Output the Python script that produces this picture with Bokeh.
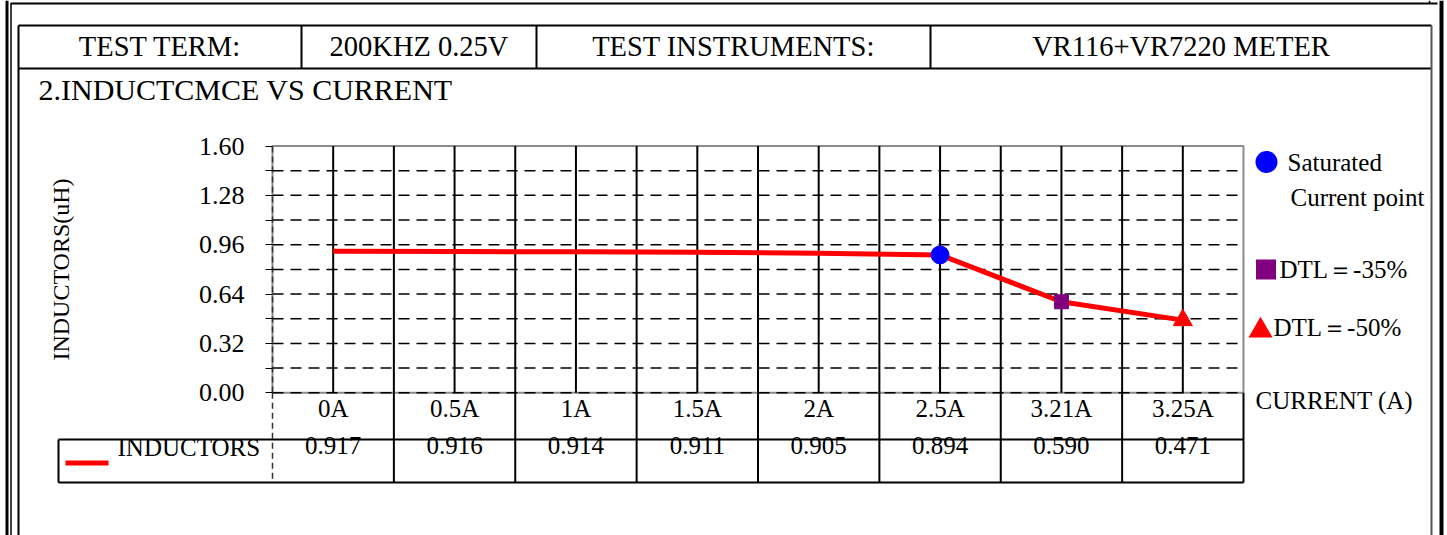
from bokeh.plotting import figure
from bokeh.models import Range1d, FixedTicker, LinearAxis, NumeralTickFormatter
from bokeh.core.properties import value
from bokeh.embed import file_html
from bokeh.resources import INLINE

# ---------------- data ----------------
categories = ["0A", "0.5A", "1A", "1.5A", "2A", "2.5A", "3.21A", "3.25A"]
inductance = [0.917, 0.916, 0.914, 0.911, 0.905, 0.894, 0.590, 0.471]
value_labels = ["0.917", "0.916", "0.914", "0.911", "0.905", "0.894", "0.590", "0.471"]
y_major_ticks = [0.00, 0.32, 0.64, 0.96, 1.28, 1.60]
y_minor_ticks = [0.16, 0.48, 0.80, 1.12, 1.44]
saturated_point = "2.5A"
dtl35_point = "3.21A"
dtl50_point = "3.25A"
header_cells = ["TEST TERM:", "200KHZ 0.25V", "TEST INSTRUMENTS:", "VR116+VR7220 METER"]
chart_title = "2.INDUCTCMCE  VS  CURRENT"
y_title = "INDUCTORS(uH)"
series_name = "INDUCTORS"
legend_texts = ["Saturated", "Current point", "DTL\uff1d-35%", "DTL\uff1d-50%"]
x_title = "CURRENT (A)"

# ---------------- layout constants (page pixels) ----------------
FONT = "Liberation Serif"
W, H = 1447, 535
PLOT_L, PLOT_R, PLOT_T, PLOT_B = 272, 1243, 145.5, 392.3
TABLE_ROW, TABLE_BOT, TABLE_L = 439, 482, 58

n = len(categories)
xs = [i + 0.5 for i in range(n)]
pos = dict(zip(categories, xs))
val = dict(zip(categories, inductance))
y_lo, y_hi = y_major_ticks[0], y_major_ticks[-1]

col_w = (PLOT_R - PLOT_L) / n
py_per_unit = (PLOT_B - PLOT_T) / (y_hi - y_lo)

# page coordinates (y downwards) for the decorations; chart ranges for the data
p = figure(width=W, height=H, output_backend="svg", toolbar_location=None,
           x_range=Range1d(0, W), y_range=Range1d(H, 0),
           x_axis_type=None, y_axis_type=None,
           min_border=0, min_border_left=0, min_border_right=0,
           min_border_top=0, min_border_bottom=0)
p.extra_x_ranges = {"cx": Range1d(-PLOT_L / col_w, (W - PLOT_L) / col_w)}
p.extra_y_ranges = {"cy": Range1d(y_lo - (H - PLOT_B) / py_per_unit, y_lo + PLOT_B / py_per_unit)}
p.outline_line_color = None
p.background_fill_color = "white"
p.border_fill_color = "white"
p.grid.visible = False

C = dict(x_range_name="cx", y_range_name="cy")

# ---------------- plot area: frame and grid ----------------
p.quad(left=[0], right=[n], bottom=[y_lo], top=[y_hi], fill_color=None,
       line_color="#8c8c8c", line_width=2, **C)
h_ticks = sorted(y_major_ticks[:-1] + y_minor_ticks)
p.segment(x0=[0] * len(h_ticks), x1=[n] * len(h_ticks), y0=h_ticks, y1=h_ticks,
          line_color="black", line_width=1.5, line_dash="11 7", **C)
v_ticks = [k / 2 for k in range(1, 2 * n)]
p.segment(x0=v_ticks, x1=v_ticks, y0=[y_lo] * len(v_ticks), y1=[y_hi] * len(v_ticks),
          line_color="black", line_width=2, **C)

# ---------------- axes fixed at the plot area's edges ----------------
xa = LinearAxis(ticker=FixedTicker(ticks=xs), fixed_location=y_lo, bounds=(0, n), **C)
xa.major_label_overrides = {x: c for x, c in zip(xs, categories)}
xa2 = LinearAxis(ticker=FixedTicker(ticks=xs), fixed_location=y_lo, bounds=(0, n), **C)
xa2.major_label_overrides = {x: v for x, v in zip(xs, value_labels)}
for ax, so in ((xa, 2), (xa2, 44)):
    ax.axis_line_color = None
    ax.major_tick_line_color = None
    ax.minor_tick_line_color = None
    ax.major_tick_out = 0
    ax.major_tick_in = 0
    ax.minor_tick_out = 0
    ax.minor_tick_in = 0
    ax.major_label_standoff = so
    ax.major_label_text_font = FONT
    ax.major_label_text_font_size = "25px"
    ax.major_label_text_color = "black"
    p.add_layout(ax, "below")

ya = LinearAxis(ticker=FixedTicker(ticks=y_major_ticks, minor_ticks=y_minor_ticks),
                fixed_location=0, bounds=(y_lo, y_hi), **C)
ya.formatter = NumeralTickFormatter(format="0.00")
ya.axis_line_color = "#333333"
ya.axis_line_dash = "6 4"
ya.axis_line_width = 1.5
ya.major_tick_out = 7
ya.major_tick_in = 0
ya.minor_tick_out = 7
ya.minor_tick_in = 0
ya.major_tick_line_color = "black"
ya.minor_tick_line_color = "black"
ya.major_label_standoff = 21
ya.major_label_text_font = FONT
ya.major_label_text_font_size = "26px"
ya.major_label_text_color = "black"
ya.axis_label = y_title
ya.axis_label_text_font = FONT
ya.axis_label_text_font_size = "24px"
ya.axis_label_text_font_style = "normal"
ya.axis_label_text_color = "black"
ya.axis_label_standoff = 122
p.add_layout(ya, "left")

# ---------------- data series ----------------
p.line(xs, inductance, line_color="red", line_width=5, **C)
p.scatter([pos[saturated_point]], [val[saturated_point]], marker="circle", size=18,
          fill_color="blue", line_color="blue", **C)
p.scatter([pos[dtl35_point]], [val[dtl35_point]], marker="square", size=14,
          fill_color="purple", line_color="purple", **C)
p.scatter([pos[dtl50_point]], [val[dtl50_point]], marker="triangle", size=19,
          fill_color="red", line_color="red", **C)

# ---------------- data table under the plot ----------------
bounds_x = list(range(1, n + 1))
p.segment(x0=bounds_x, x1=bounds_x, y0=[PLOT_B] * n, y1=[TABLE_BOT] * n,
          line_color="black", line_width=2, x_range_name="cx")
p.segment(x0=[0], x1=[0], y0=[PLOT_B], y1=[TABLE_BOT],
          line_color="#333333", line_width=1.5, line_dash="6 4", x_range_name="cx")
p.segment(x0=[TABLE_L, TABLE_L, TABLE_L], x1=[PLOT_R, PLOT_R, TABLE_L],
          y0=[TABLE_ROW, TABLE_BOT, TABLE_ROW], y1=[TABLE_ROW, TABLE_BOT, TABLE_BOT],
          line_color="black", line_width=2)
p.quad(left=[65], right=[108], top=[460], bottom=[465], fill_color="red", line_color=None)

# ---------------- page frame and header table ----------------
hx = [18, 301, 536, 930, 1431]
p.segment(x0=[6.5], x1=[6.5], y0=[0], y1=[H], line_color="black", line_width=3)
p.segment(x0=[10.5, 1429], x1=[10.5, 1429], y0=[3, 0], y1=[H, 3], line_color="black", line_width=1.5)
p.segment(x0=[1441], x1=[1441], y0=[0], y1=[H], line_color="black", line_width=4)
p.segment(x0=[10], x1=[1437], y0=[3], y1=[3], line_color="black", line_width=2)
p.segment(x0=[hx[0], hx[0], hx[0]] + hx[1:-1],
          x1=[hx[-1], hx[-1], hx[0]] + hx[1:-1],
          y0=[25, 68, 25] + [25] * 3,
          y1=[25, 68, H] + [68] * 3,
          line_color="black", line_width=2)
p.segment(x0=[hx[-1]], x1=[hx[-1]], y0=[25], y1=[H], line_color="#555555", line_width=2)

# ---------------- texts ----------------
p.text(x=[(hx[i] + hx[i + 1]) / 2 for i in range(len(header_cells))], y=[46] * len(header_cells),
       text=header_cells, text_font=value(FONT), text_font_size=value("28.5px"),
       text_color="black", text_align="center", text_baseline="middle")
p.text(x=[38], y=[89], text=[chart_title], text_font=value(FONT), text_font_size=value("30px"),
       text_color="black", text_align="left", text_baseline="middle")
p.text(x=[117, 1287, 1290, 1279, 1273, 1255], y=[447, 162, 197, 269, 327, 400],
       text=[series_name] + legend_texts + [x_title],
       text_font=value(FONT), text_font_size=value("25px"),
       text_color="black", text_align="left", text_baseline="middle")

# legend symbols
p.scatter([1266], [161.5], marker="circle", size=22, fill_color="blue", line_color=None)
p.scatter([1265.5], [269], marker="square", size=20, fill_color="purple", line_color=None)
p.scatter([1260], [330], marker="triangle", size=24, fill_color="red", line_color=None)

open("out.html", "w").write(file_html(p, INLINE))
